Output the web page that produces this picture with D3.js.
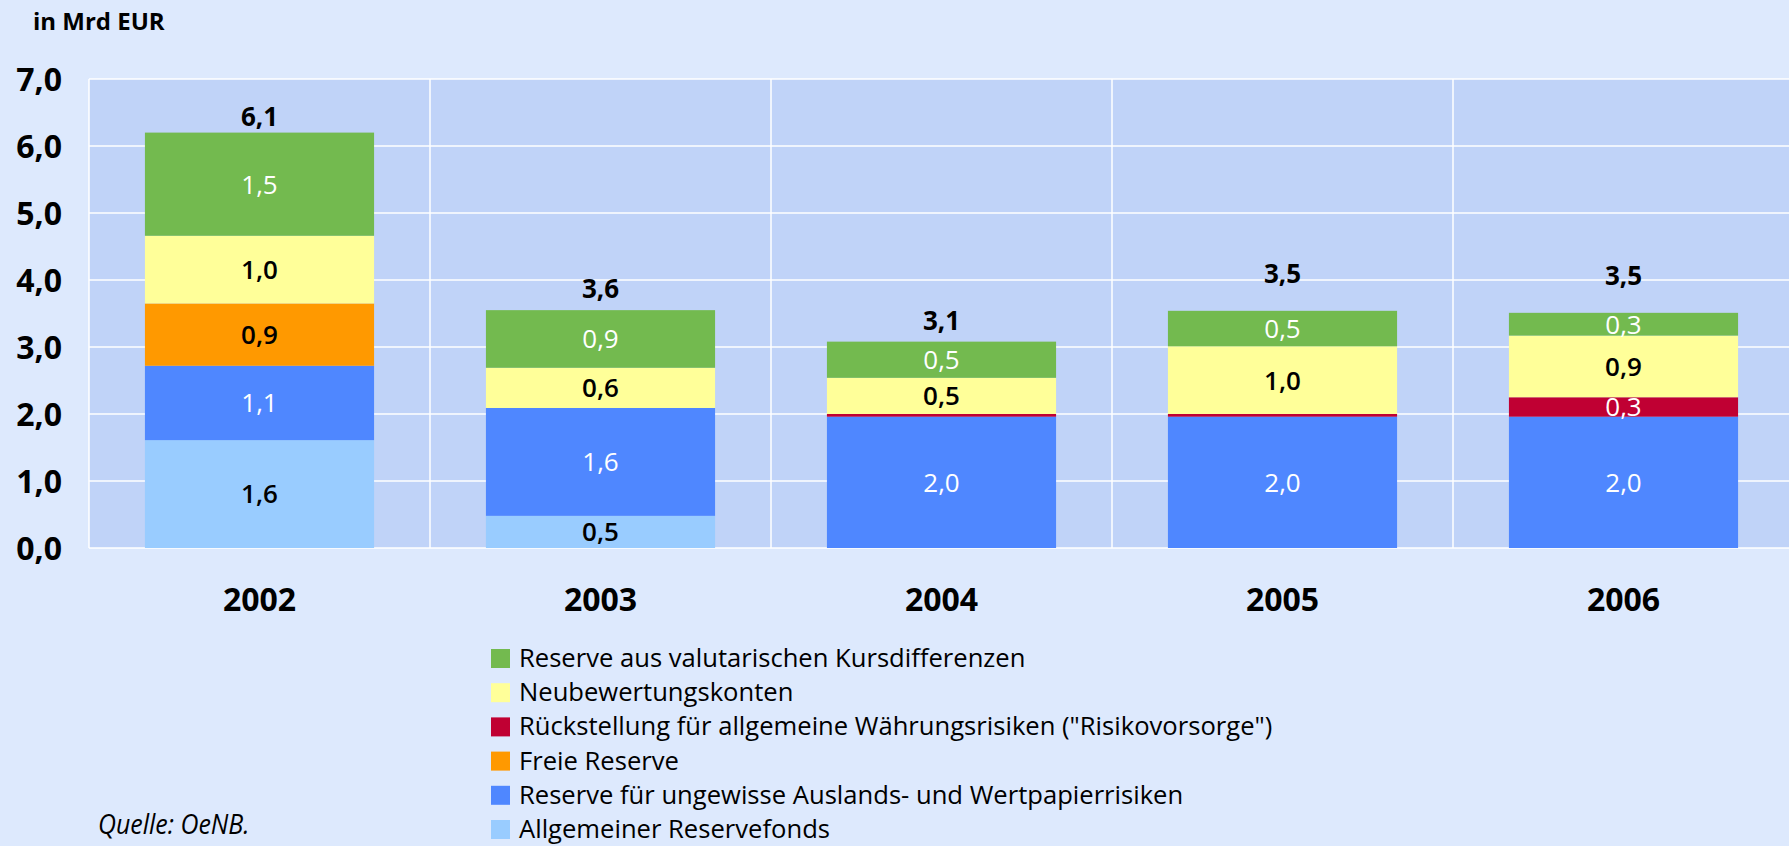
<!DOCTYPE html>
<html>
<head>
<meta charset="utf-8">
<script src="https://cdn.jsdelivr.net/npm/d3@7"></script>
<style>
  html, body { margin: 0; padding: 0; background: #dde9fd; }
  svg { display: block; }
  text { font-family: "Open Sans", "Liberation Sans", sans-serif; }
</style>
</head>
<body>
<svg id="chart"></svg>
<script>
"use strict";

// ==========================
// data
// ==========================
var years = ["2002", "2003", "2004", "2005", "2006"];

// series, bottom of the stack first
var allgemeinerReservefonds = [1.61, 0.48, 0, 0, 0];
var reserveUngewisse = [1.11, 1.61, 1.96, 1.96, 1.96];
var freieReserve = [0.93, 0, 0, 0, 0];
var rueckstellung = [0, 0, 0.04, 0.04, 0.29];
var neubewertungskonten = [1.01, 0.60, 0.54, 1.01, 0.92];
var reserveValutarisch = [1.54, 0.86, 0.54, 0.53, 0.34];

// printed totals above the bars
var totals = [6.1, 3.6, 3.1, 3.5, 3.5];

var yTicks = [0, 1, 2, 3, 4, 5, 6, 7];

var seriesNames = [
  "Allgemeiner Reservefonds",
  "Reserve für ungewisse Auslands- und Wertpapierrisiken",
  "Freie Reserve",
  "Rückstellung für allgemeine Währungsrisiken (\"Risikovorsorge\")",
  "Neubewertungskonten",
  "Reserve aus valutarischen Kursdifferenzen"
];
var seriesValues = [allgemeinerReservefonds, reserveUngewisse, freieReserve, rueckstellung, neubewertungskonten, reserveValutarisch];
var seriesColors = ["#99ccff", "#4f87ff", "#ff9900", "#c00033", "#ffff99", "#73ba4f"];
var labelColors = ["#000", "#fff", "#000", "#fff", "#000", "#fff"];

// gap between bar top and the total label (px)
var totalGap = [16, 22, 21, 37, 37];

// ==========================
// layout
// ==========================
var width = 1789,
    height = 846,
    plotLeft = 89,
    plotRight = 1794,
    plotTop = 79,
    plotBottom = 548;

var svg = d3.select("#chart").attr("width", width).attr("height", height);

svg.append("rect").attr("width", width).attr("height", height).style("fill", "#dde9fd");

var x = d3.scaleBand().domain(years).range([plotLeft, plotRight]).paddingInner(0.328).paddingOuter(0.164),
    xGrid = d3.scaleBand().domain(years).range([plotLeft, plotRight]),
    y = d3.scaleLinear().domain([0, 7]).range([plotBottom, plotTop]);

var fmt = function (v) {
  return d3.format(".1f")(v).replace(".", ",");
};

// ==========================
// plot area + grid
// ==========================
svg.append("rect").attr("x", plotLeft).attr("y", plotTop).attr("width", plotRight - plotLeft).attr("height", plotBottom - plotTop).style("fill", "#c0d3f8");

svg.append("g").selectAll("line").data(yTicks).enter().append("line").attr("x1", plotLeft).attr("x2", plotRight).attr("y1", function (d) {
  return y(d);
}).attr("y2", function (d) {
  return y(d);
}).style("stroke", "#fff").style("stroke-width", 1.5);

svg.append("g").selectAll("line").data(years).enter().append("line").attr("x1", function (d) {
  return xGrid(d);
}).attr("x2", function (d) {
  return xGrid(d);
}).attr("y1", plotTop).attr("y2", plotBottom).style("stroke", "#fff").style("stroke-width", 1.5);

// ==========================
// stacked bars
// ==========================
var rows = years.map(function (yr, i) {
  var r = { year: yr };
  seriesNames.forEach(function (s, k) {
    r[s] = seriesValues[k][i];
  });
  return r;
});

var stack = d3.stack().keys(seriesNames)(rows);

var layers = svg.append("g").selectAll("g").data(stack).enter().append("g").style("fill", function (d, k) {
  return seriesColors[k];
});

layers.selectAll("rect").data(function (d) {
  return d;
}).enter().append("rect").attr("x", function (d) {
  return x(d.data.year);
}).attr("width", x.bandwidth()).attr("y", function (d) {
  return y(d[1]);
}).attr("height", function (d) {
  return y(d[0]) - y(d[1]);
});

layers.selectAll("text").data(function (d, k) {
  return d.map(function (e) {
    return { seg: e, k: k };
  }).filter(function (e) {
    return e.seg[1] - e.seg[0] >= 0.1;
  });
}).enter().append("text").attr("x", function (d) {
  return x(d.seg.data.year) + x.bandwidth() / 2;
}).attr("y", function (d) {
  return (y(d.seg[0]) + y(d.seg[1])) / 2;
}).attr("dy", "0.36em").attr("text-anchor", "middle").style("font-size", "26px").style("font-weight", function (d) {
  return labelColors[d.k] == "#fff" ? 500 : 600;
}).style("fill", function (d) {
  return labelColors[d.k];
}).text(function (d) {
  return fmt(d.seg[1] - d.seg[0]);
});

// totals
var topLayer = stack[stack.length - 1];
svg.append("g").selectAll("text").data(years).enter().append("text").attr("x", function (d) {
  return x(d) + x.bandwidth() / 2;
}).attr("y", function (d, i) {
  return y(topLayer[i][1]) - totalGap[i];
}).attr("dy", "0.36em").attr("text-anchor", "middle").style("font-size", "26px").style("font-weight", 700).style("fill", "#000").text(function (d, i) {
  return fmt(totals[i]);
});

// ==========================
// axes
// ==========================
var yAxis = svg.append("g").attr("transform", "translate(" + plotLeft + ",0)").call(d3.axisLeft(y).tickValues(yTicks).tickSize(0).tickPadding(27).tickFormat(fmt));
yAxis.select(".domain").remove();
yAxis.selectAll("text").attr("dy", "0.36em").style("font-size", "32px").style("font-weight", 700).style("font-family", "\"Open Sans\", sans-serif").style("fill", "#000");

var xAxis = svg.append("g").attr("transform", "translate(0," + plotBottom + ")").call(d3.axisBottom(x).tickSize(0));
xAxis.select(".domain").remove();
xAxis.selectAll("text").attr("y", 63).attr("dy", null).style("font-size", "32px").style("font-weight", 700).style("font-family", "\"Open Sans\", sans-serif").style("fill", "#000");

// unit
svg.append("text").attr("x", 33).attr("y", 30).style("font-size", "24px").style("font-weight", 700).text("in Mrd EUR");

// ==========================
// legend
// ==========================
var legendOrder = d3.range(seriesNames.length).reverse();
var legend = svg.append("g").selectAll("g").data(legendOrder).enter().append("g").attr("transform", function (d, i) {
  return "translate(491," + (649 + i * 34.2) + ")";
});
legend.append("rect").attr("width", 19).attr("height", 19).style("fill", function (k) {
  return seriesColors[k];
});
legend.append("text").attr("x", 28).attr("y", 18).style("font-size", "25.6px").style("fill", "#000").text(function (k) {
  return seriesNames[k];
});

// source (condensed italic)
svg.append("text").attr("transform", "translate(98,834) scale(0.89,1)").style("font-size", "28px").style("font-style", "italic").text("Quelle: OeNB.");
</script>
</body>
</html>
